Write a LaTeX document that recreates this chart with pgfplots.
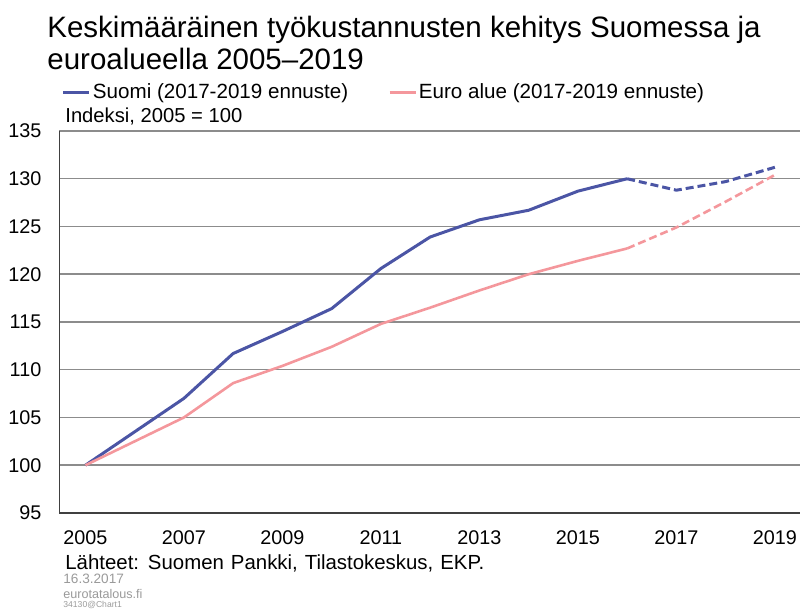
\documentclass[border=0pt]{standalone}
\usepackage{fontspec}
\setmainfont{Liberation Sans}
\usepackage{pgfplots}
\pgfplotsset{compat=1.18}
\definecolor{fiblue}{HTML}{4B55A5}
\definecolor{eupink}{HTML}{F4979C}
\definecolor{gridgray}{HTML}{8C8C8C}
\definecolor{foot}{HTML}{9A9A9A}
\begin{document}
\begin{tikzpicture}
\useasboundingbox (0,0) rectangle (400pt,305pt);
% titles
\node[anchor=base west, inner sep=0pt, font=\fontsize{14.75}{16}\selectfont] at (23.5pt,286pt) {Keskimääräinen työkustannusten kehitys Suomessa ja};
\node[anchor=base west, inner sep=0pt, font=\fontsize{14.75}{16}\selectfont] at (23.5pt,270pt) {euroalueella\ 2005–2019};
\node[anchor=base west, inner sep=0pt, font=\fontsize{10.1}{12}\selectfont] at (32.5pt,243.5pt) {Indeksi, 2005 = 100};
\node[anchor=base west, inner sep=0pt, font=\fontsize{10.2}{12}\selectfont] at (32.5pt,20pt) {\spaceskip=3.5pt\relax Lähteet: Suomen Pankki, Tilastokeskus, EKP.};
\node[anchor=base west, inner sep=0pt, text=foot, font=\fontsize{6.8}{8}\selectfont] at (31.5pt,13pt) {16.3.2017};
\node[anchor=base west, inner sep=0pt, text=foot, font=\fontsize{6.3}{8}\selectfont] at (31.5pt,5.5pt) {eurotatalous.fi};
\node[anchor=base west, inner sep=0pt, text=foot, font=\fontsize{4.3}{5}\selectfont] at (31.5pt,1pt) {34130@Chart1};
\begin{axis}[
  at={(29.65pt,48.5pt)}, anchor=south west,
  scale only axis, width=370.85pt, height=191pt,
  xmin=2004.47, xmax=2019.53, ymin=95, ymax=135,
  xtick={2005,2007,...,2019},
  xticklabels={2005,2007,2009,2011,2013,2015,2017,2019},
  ytick={95,100,...,135},
  /pgf/number format/assume math mode=true,
  tick label style={font=\fontsize{9.9}{12}\selectfont, inner sep=0pt},
  xticklabel style={anchor=north, yshift=-8.8pt},
  yticklabel style={anchor=east, xshift=-8.8pt},
  major tick length=0pt,
  axis lines*=left,
  axis line style={-, draw=black!75, line width=0.6pt},
  ymajorgrids,
  grid style={gridgray, line width=0.75pt},
  clip=false,
  legend columns=2,
  legend style={at={(0.0036,1.1)}, anchor=west, draw=none, fill=none,
    inner sep=0pt, outer sep=0pt,
    nodes={inner sep=1pt, font=\fontsize{10.3}{12}\selectfont},
    /tikz/every even column/.append style={column sep=19pt}},
  legend cell align=left,
  legend image code/.code={\draw[#1] (0pt,0pt) -- (13pt,0pt);},
]
\addplot[fiblue, line width=1.5pt, line join=round] coordinates {
(2005,100) (2006,103.5) (2007,107.0) (2008,111.7) (2009,114.0) (2010,116.4)
(2011,120.6) (2012,123.9) (2013,125.7) (2014,126.7) (2015,128.7) (2016,130.0)};
\addlegendentry{Suomi (2017-2019 ennuste)}
\addplot[eupink, line width=1.3pt, line join=round] coordinates {
(2005,100) (2006,102.5) (2007,105.0) (2008,108.6) (2009,110.4) (2010,112.4)
(2011,114.8) (2012,116.5) (2013,118.3) (2014,120.0) (2015,121.4) (2016,122.7)};
\addlegendentry{Euro alue (2017-2019 ennuste)}
\addplot[fiblue, line width=1.5pt, line join=round, dash pattern=on 4pt off 2pt, forget plot] coordinates {
(2016,130.0) (2017,128.8) (2018,129.7) (2019,131.2)};
\addplot[eupink, line width=1.3pt, line join=round, dash pattern=on 4pt off 2pt, forget plot] coordinates {
(2016,122.7) (2017,124.9) (2018,127.6) (2019,130.4)};
\end{axis}
\end{tikzpicture}
\end{document}
